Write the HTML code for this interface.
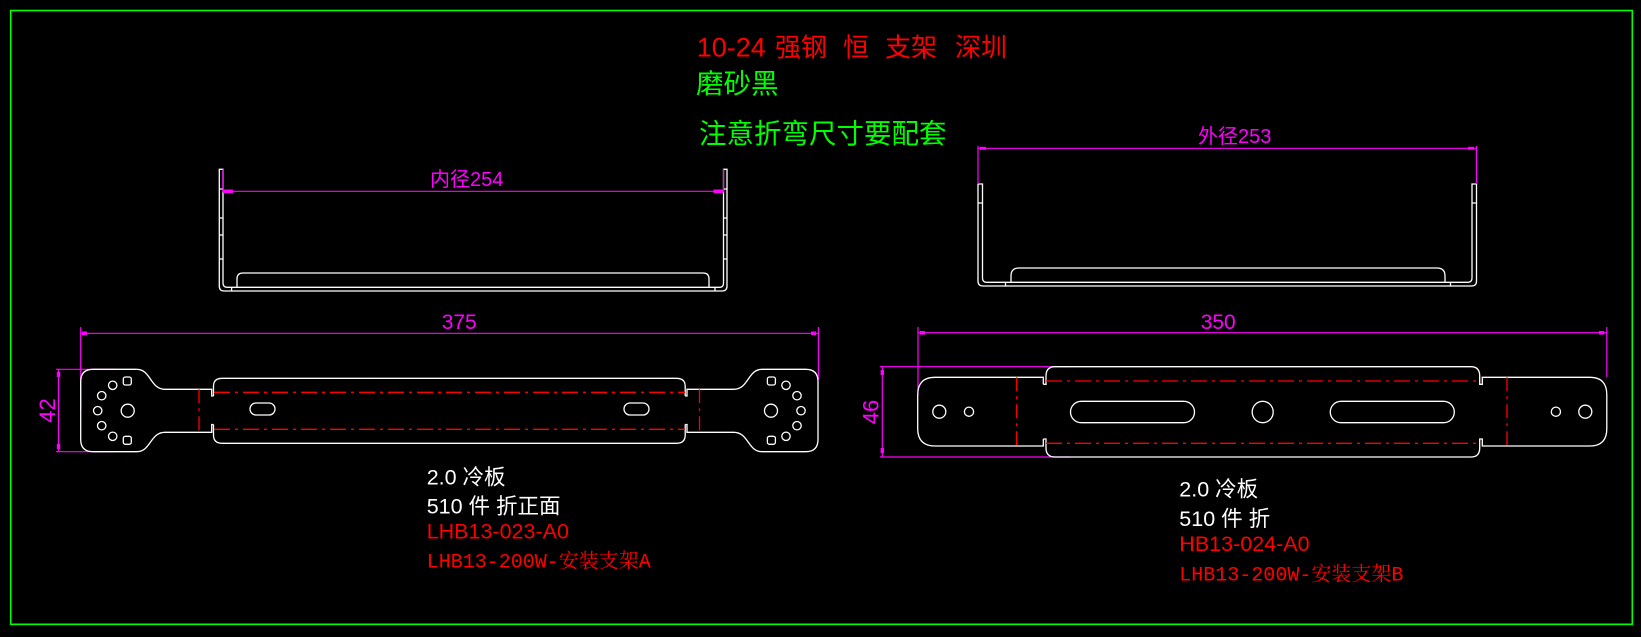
<!DOCTYPE html>
<html><head><meta charset="utf-8"><style>
html,body{margin:0;padding:0;background:#000;}
svg{display:block;}
.w{fill:none;stroke:#fff;stroke-width:1.3;}
.m{fill:none;stroke:#f0f;stroke-width:1.2;}
.r{fill:none;stroke:#f00;stroke-width:1.3;}
.rd{fill:none;stroke:#f00;stroke-width:1.3;stroke-dasharray:16 5 3 5;}
.rv{fill:none;stroke:#f00;stroke-width:1.3;stroke-dasharray:14 5 3 5;}
text{font-family:"Liberation Sans","Noto Sans CJK SC",sans-serif;}
.ser{font-family:"Liberation Mono","Noto Serif CJK SC",serif;}
</style></head><body>
<svg width="1641" height="637" viewBox="0 0 1641 637" xmlns="http://www.w3.org/2000/svg">
<rect x="0" y="0" width="1641" height="637" fill="#000"/>
<rect x="10.7" y="10.5" width="1621.6" height="613.8" fill="none" stroke="#0f0" stroke-width="1.6"/>

<text x="696.7" y="56.7" font-size="27" fill="#f00">10-24</text>
<text x="775" y="56.7" font-size="26" fill="#f00">强钢</text>
<text x="843" y="56.7" font-size="26" fill="#f00">恒</text>
<text x="885" y="56.7" font-size="26" fill="#f00">支架</text>
<text x="955" y="56.7" font-size="26" fill="#f00">深圳</text>
<text x="696" y="93" font-size="27.5" fill="#0f0">磨砂黑</text>
<text x="699" y="143" font-size="27.5" fill="#0f0">注意折弯尺寸要配套</text>

<path class="w" d="M219.3 169.3 V286 Q219.3 291 224 291 H722 Q727 291 727 286 V169.3 H723.5 V283 Q723.5 287.3 720 287.3 H227 Q223 287.3 223 283 V169.3 Z"/>
<path class="w" d="M237 287.3 V279 Q237 273 243 273 H703 Q709 273 709 279 V287.3 M231.6 287.3 V291 M715 287.3 V291"/>
<path class="w" d="M219.3 189 H223 M219.3 218 H223 M219.3 235 H223 M219.3 259 H223 M723.5 189 H727 M723.5 218 H727 M723.5 235 H727 M723.5 259 H727"/>
<path class="m" d="M223 191.3 H723.5 M223 169.3 V192 M723.5 169.3 V192"/>
<rect x="223" y="189.5" width="10" height="3.6" fill="#f0f"/>
<rect x="713.5" y="189.5" width="10" height="3.6" fill="#f0f"/>
<text x="430" y="186" font-size="20" fill="#f0f">内径254</text>

<path class="w" d="M978 184 V281 Q978 286 983 286 H1471.5 Q1476.5 286 1476.5 281 V184 H1472 V278 Q1472 282.3 1468 282.3 H986.5 Q982.5 282.3 982.5 278 V184 Z"/>
<path class="w" d="M1011 282.3 V276 Q1011 268 1019 268 H1437 Q1445 268 1445 276 V282.3 M1005.5 282.3 V286 M1450.5 282.3 V286 M978 203 H982.5 M1472 203 H1476.5"/>
<path class="m" d="M978 148.3 H1476.5 M978 146 V184 M1476.5 146 V184"/>
<rect x="980" y="146.8" width="6" height="3" fill="#f0f"/>
<rect x="1468" y="146.8" width="6" height="3" fill="#f0f"/>
<text x="1198" y="143" font-size="20" fill="#f0f">外径253</text>

<path class="m" d="M80.7 333.3 H818.4 M80.7 327 V410 M818.4 327 V380"/>
<rect x="82" y="331.5" width="5" height="3.6" fill="#f0f"/>
<rect x="811" y="331.5" width="5" height="3.6" fill="#f0f"/>
<text x="441.7" y="329" font-size="21" fill="#f0f">375</text>
<path class="m" d="M58.5 369.3 V451.7 M56 369.3 H115 M56 451.7 H115"/>
<rect x="56.8" y="372" width="3.4" height="5" fill="#f0f"/>
<rect x="56.8" y="444" width="3.4" height="5" fill="#f0f"/>
<text transform="translate(55,410.5) rotate(-90)" font-size="22" fill="#f0f" text-anchor="middle">42</text>

<path class="w" d="M136.7 369.3 H93 Q80.7 369.3 80.7 381.5 V439.5 Q80.7 451.7 93 451.7 H136.7 C151 451.7 150 432.3 165 432.3 H211.7 V424.5 H213.5"/>
<path class="w" d="M136.7 369.3 C151 369.3 150 389.3 165 389.3 H211.7 V396 H213.5"/>
<path class="w" d="M213.5 396 V386 Q213.5 378.3 222 378.3 H676.5 Q685.2 378.3 685.2 386 V396"/>
<path class="w" d="M213.5 424.5 V435 Q213.5 443.3 222 443.3 H676.5 Q685.2 443.3 685.2 435 V424.5"/>
<path class="w" d="M762 369.3 H805.7 Q818 369.3 818 381.5 V439.5 Q818 451.7 805.7 451.7 H762 C747.7 451.7 748.7 432.3 733.7 432.3 H687 V424.5 H685.2 M762 369.3 C747.7 369.3 748.7 389.3 733.7 389.3 H687 V396 H685.2"/>
<path class="rd" d="M214 392.3 H685 M214 429.3 H685"/>
<path class="rv" d="M199 389.3 V432.3 M699.5 389.3 V432.3"/>
<rect x="250" y="403" width="25" height="12" rx="6" class="w"/>
<rect x="624" y="403" width="25" height="12" rx="6" class="w"/>
<g class="w">
<circle cx="127.7" cy="410.7" r="6.5"/>
<circle cx="112.7" cy="385.3" r="4.2"/><circle cx="101.7" cy="395.7" r="4.2"/><circle cx="97.7" cy="410.7" r="4.2"/><circle cx="101.7" cy="425.7" r="4.2"/><circle cx="112.7" cy="436.3" r="4.2"/>
<rect x="123.3" y="377" width="8" height="8" rx="2"/><rect x="123.3" y="436.3" width="8" height="8" rx="2"/>
<circle cx="771" cy="410.7" r="6.5"/>
<circle cx="786" cy="385.3" r="4.2"/><circle cx="797" cy="395.7" r="4.2"/><circle cx="801" cy="410.7" r="4.2"/><circle cx="797" cy="425.7" r="4.2"/><circle cx="786" cy="436.3" r="4.2"/>
<rect x="767.4" y="377" width="8" height="8" rx="2"/><rect x="767.4" y="436.3" width="8" height="8" rx="2"/>
</g>
<text x="426.7" y="484.3" font-size="21.5" fill="#fff">2.0 冷板</text>
<text x="426.7" y="513.3" font-size="21.5" fill="#fff">510 件 折正面</text>
<text x="426.7" y="538.3" font-size="21.5" fill="#f00">LHB13-023-A0</text>
<text x="426.7" y="567.7" font-size="20" fill="#f00" class="ser">LHB13-200W-安装支架A</text>

<path class="m" d="M918 332.7 H1606.8 M918 327 V395 M1606.8 327 V377"/>
<rect x="920" y="331" width="5" height="3.6" fill="#f0f"/>
<rect x="1599" y="331" width="5" height="3.6" fill="#f0f"/>
<text x="1200.7" y="329" font-size="21" fill="#f0f">350</text>
<path class="m" d="M882.3 366.7 V457 M880 366.7 H1069.5 M880 457 H1069.5"/>
<rect x="880.6" y="370" width="3.4" height="5" fill="#f0f"/>
<rect x="880.6" y="448" width="3.4" height="5" fill="#f0f"/>
<text transform="translate(878.5,412) rotate(-90)" font-size="22" fill="#f0f" text-anchor="middle">46</text>

<path class="w" d="M1043.3 384.3 V377.3 H935 Q917.7 377.3 917.7 395 V428.5 Q917.7 446 935 446 H1043.3 V439"/>
<path class="w" d="M1043.3 384.3 H1046 V376 Q1046 366.7 1055 366.7 H1471 Q1479.7 366.7 1479.7 376 V384.3 H1482.3 V377.3 H1590 Q1606.8 377.3 1606.8 395 V428.5 Q1606.8 446 1590 446 H1482.3 V439 H1479.7 V448 Q1479.7 457 1471 457 H1055 Q1046 457 1046 448 V439 H1043.3"/>
<path class="rv" d="M1016.7 377.3 V446 M1507 377.3 V446"/>
<path class="rd" d="M1046 381 H1479.7 M1046 443.3 H1479.7"/>
<rect x="1070.5" y="401.3" width="124" height="21.4" rx="10.7" class="w"/>
<rect x="1330.3" y="401.3" width="124" height="21.4" rx="10.7" class="w"/>
<g class="w">
<ellipse cx="1262.7" cy="412" rx="10.5" ry="10.7"/>
<circle cx="939.3" cy="411.7" r="6.5"/><circle cx="969" cy="411.7" r="4.6"/>
<circle cx="1555.9" cy="411.7" r="4.6"/><circle cx="1585.3" cy="411.7" r="6.5"/>
</g>
<text x="1179.3" y="496.7" font-size="21.5" fill="#fff">2.0 冷板</text>
<text x="1179.3" y="526" font-size="21.5" fill="#fff">510 件 折</text>
<text x="1179.3" y="551" font-size="21.5" fill="#f00">HB13-024-A0</text>
<text x="1179.3" y="580.7" font-size="20" fill="#f00" class="ser">LHB13-200W-安装支架B</text>
</svg>
</body></html>
